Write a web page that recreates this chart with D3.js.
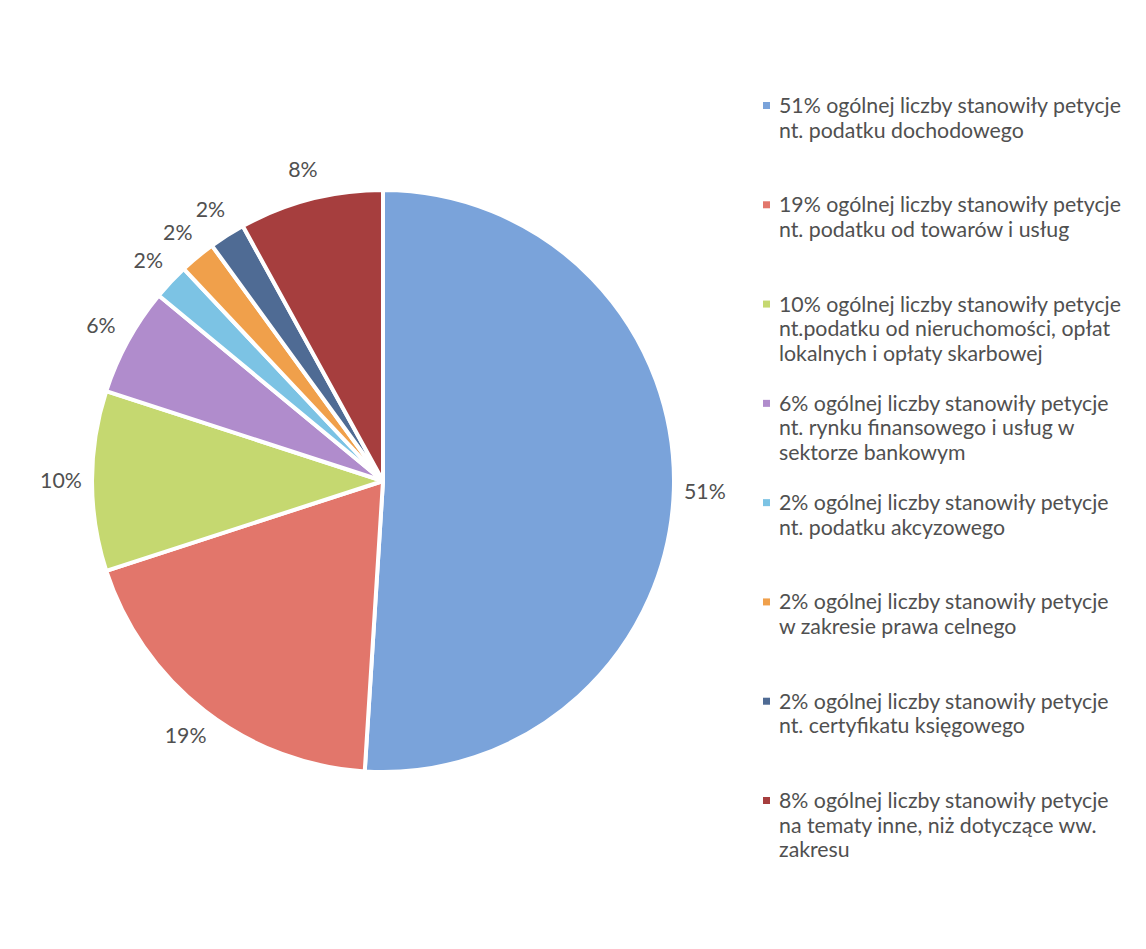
<!DOCTYPE html>
<html>
<head>
<meta charset="utf-8">
<script src="https://cdn.jsdelivr.net/npm/d3@7"></script>
<style>
  body { margin: 0; background: #ffffff; }
  svg { display: block; }
</style>
</head>
<body>
<script>
// slice values (percent), in drawing order clockwise from 12 o'clock
var sliceValues = [51, 19, 10, 6, 2, 2, 2, 8];

var sliceColors = ["#7aa3da", "#e2766b", "#c5d870", "#b08ccc", "#7cc3e4", "#f0a04b", "#4f6b94", "#a63e3e"];

var sliceLabels = ["51%", "19%", "10%", "6%", "2%", "2%", "2%", "8%"];

var legendLabels = [
    ["51% ogólnej liczby stanowiły petycje", "nt. podatku dochodowego"],
    ["19% ogólnej liczby stanowiły petycje", "nt. podatku od towarów i usług"],
    ["10% ogólnej liczby stanowiły petycje", "nt.podatku od nieruchomości, opłat", "lokalnych i opłaty skarbowej"],
    ["6% ogólnej liczby stanowiły petycje", "nt. rynku finansowego i usług w", "sektorze bankowym"],
    ["2% ogólnej liczby stanowiły petycje", "nt. podatku akcyzowego"],
    ["2% ogólnej liczby stanowiły petycje", "w zakresie prawa celnego"],
    ["2% ogólnej liczby stanowiły petycje", "nt. certyfikatu księgowego"],
    ["8% ogólnej liczby stanowiły petycje", "na tematy inne, niż dotyczące ww.", "zakresu"]
];

var width = 1146, height = 949;
var pieCenter = { x: 383, y: 481 };
var pieRadius = 291;
var labelRadius = 322;
var fontFamily = "Lato, 'Open Sans', sans-serif";
var textColor = "#505050";

var svg = d3.select("body").append("svg")
    .attr("width", width)
    .attr("height", height);

// pick a font size so the first legend line is as wide as in the picture
var probe = svg.append("text")
    .attr("font-family", fontFamily)
    .attr("font-size", 20)
    .text(legendLabels[0][0]);
var fontSize = 20 * 342 / probe.node().getComputedTextLength();
probe.remove();

var pie = d3.pie().sort(null).value(function(d) { return d; });
var arc = d3.arc().innerRadius(0).outerRadius(pieRadius);
var labelArc = d3.arc().innerRadius(labelRadius).outerRadius(labelRadius);

var pieG = svg.append("g")
    .attr("transform", "translate(" + pieCenter.x + ", " + pieCenter.y + ")");

var arcs = pie(sliceValues);

pieG.selectAll("path.slice")
    .data(arcs)
    .enter().append("path")
    .attr("class", "slice")
    .attr("d", arc)
    .attr("fill", function(d, i) { return sliceColors[i]; })
    .attr("stroke", "#ffffff")
    .attr("stroke-width", 4)
    .attr("stroke-linejoin", "round");

pieG.selectAll("text.pct")
    .data(arcs)
    .enter().append("text")
    .attr("class", "pct")
    .attr("transform", function(d) { return "translate(" + labelArc.centroid(d) + ")"; })
    .attr("dy", "0.35em")
    .attr("text-anchor", "middle")
    .attr("font-family", fontFamily)
    .attr("font-size", fontSize)
    .attr("fill", textColor)
    .text(function(d, i) { return sliceLabels[i]; });

// legend
var legendY = d3.scaleLinear().domain([0, legendLabels.length - 1]).range([113, 808]);
var legendX = 779;
var lineHeight = 24.5;

var legendItems = svg.selectAll("g.legend")
    .data(legendLabels)
    .enter().append("g")
    .attr("class", "legend")
    .attr("transform", function(d, i) { return "translate(" + legendX + ", " + legendY(i) + ")"; });

legendItems.append("rect")
    .attr("x", -16)
    .attr("y", -11)
    .attr("width", 7)
    .attr("height", 7)
    .attr("fill", function(d, i) { return sliceColors[i]; });

legendItems.selectAll("text")
    .data(function(d) { return d; })
    .enter().append("text")
    .attr("x", 0)
    .attr("y", function(d, j) { return j * lineHeight; })
    .attr("font-family", fontFamily)
    .attr("font-size", fontSize)
    .attr("fill", textColor)
    .text(function(d) { return d; });
</script>
</body>
</html>
